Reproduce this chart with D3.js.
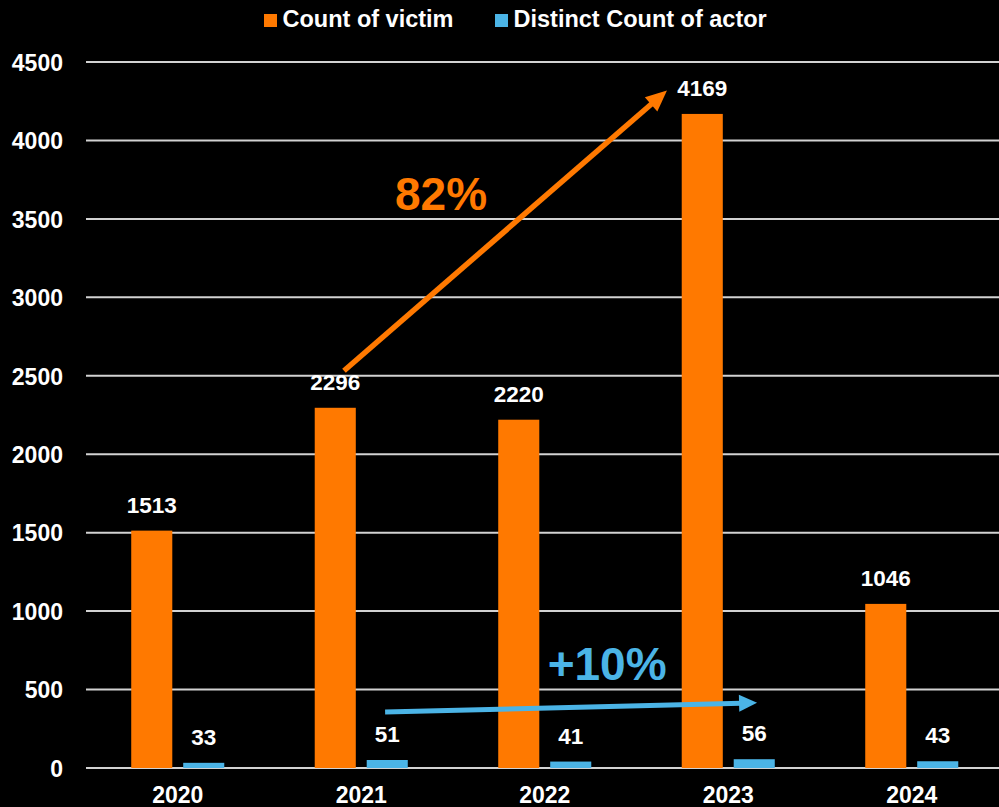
<!DOCTYPE html>
<html>
<head>
<meta charset="utf-8">
<script src="https://cdn.jsdelivr.net/npm/d3@7"></script>
<style>
  html, body { margin: 0; padding: 0; background: #000; }
  svg { display: block; }
  text { font-family: "Liberation Sans", Arial, "DejaVu Sans", sans-serif; font-weight: bold; }
</style>
</head>
<body>
<svg id="chart" width="999" height="807"></svg>
<script>
// Yearly totals
const years = ["2020", "2021", "2022", "2023", "2024"];
const victimCounts = [1513, 2296, 2220, 4169, 1046];
const actorCounts = [33, 51, 41, 56, 43];
const seriesNames = ["Count of victim", "Distinct Count of actor"];
const seriesColors = ["#FF7900", "#4BB4E6"];
const yTicks = [0, 500, 1000, 1500, 2000, 2500, 3000, 3500, 4000, 4500];

// Growth call-outs: arrow endpoints given as (year, position inside the year slot, value)
const growthArrows = [
  { color: "#FF7900", width: 5.5, head: 21, half: 9.5,
    from: { year: "2021", f: 0.406, v: 2532 }, to: { year: "2023", f: 0.166, v: 4318 } },
  { color: "#4BB4E6", width: 5, head: 18, half: 8.5,
    from: { year: "2021", f: 0.63, v: 357 }, to: { year: "2023", f: 0.657, v: 416 } }
];
const growthLabels = [
  { text: "82%", color: "#FF7900", year: "2021", f: 0.935, v: 3559 },
  { text: "+10%", color: "#4BB4E6", year: "2022", f: 0.84, v: 561 }
];

const rows = years.map((y, i) => ({ year: y, values: [victimCounts[i], actorCounts[i]] }));

const svg = d3.select("#chart");
const W = 999;

const x = d3.scaleBand().domain(years).range([86, 1003.5]).padding(0);
const xs = d3.scaleBand().domain(d3.range(seriesNames.length))
  .range([0, x.bandwidth()]).paddingInner(0.21).paddingOuter(0.87);
const y = d3.scaleLinear().domain([0, 4500]).range([768, 62]);

// Horizontal gridlines
svg.append("g").selectAll("line").data(yTicks).join("line")
  .attr("x1", 86).attr("x2", W)
  .attr("y1", d => y(d)).attr("y2", d => y(d))
  .attr("stroke", "#d2d2d2").attr("stroke-width", 2);

// Y axis labels
const yAxis = d3.axisLeft(y).tickValues(yTicks).tickFormat(d3.format("d")).tickSize(0).tickPadding(0);
const gy = svg.append("g").attr("transform", "translate(63,0)").call(yAxis);
gy.select(".domain").remove();
gy.selectAll("text")
  .attr("fill", "#fff").attr("font-size", "23px")
  .attr("font-family", "'Liberation Sans', Arial, sans-serif").attr("font-weight", "bold")
  .attr("dy", "0.36em");

// X axis labels
const xAxis = d3.axisBottom(x).tickSize(0).tickPadding(0);
const gx = svg.append("g").attr("transform", "translate(0,787)").call(xAxis);
gx.select(".domain").remove();
gx.selectAll("text")
  .attr("fill", "#fff").attr("font-size", "23px")
  .attr("font-family", "'Liberation Sans', Arial, sans-serif").attr("font-weight", "bold")
  .attr("dy", "0.7em");

// Bars
const groups = svg.append("g").selectAll("g").data(rows).join("g")
  .attr("transform", d => `translate(${x(d.year)},0)`);

groups.selectAll("rect").data(d => d.values.map((v, i) => ({ v, i }))).join("rect")
  .attr("x", d => xs(d.i))
  .attr("width", xs.bandwidth())
  .attr("y", d => y(d.v))
  .attr("height", d => y(0) - y(d.v))
  .attr("fill", d => seriesColors[d.i]);

// Value labels
groups.selectAll("text.val").data(d => d.values.map((v, i) => ({ v, i }))).join("text")
  .attr("class", "val")
  .attr("x", d => xs(d.i) + xs.bandwidth() / 2)
  .attr("y", d => y(d.v) - 18)
  .attr("text-anchor", "middle")
  .attr("fill", "#fff").attr("font-size", "22.5px")
  .text(d => d.v);

// Growth arrows
const pt = p => [x(p.year) + p.f * x.bandwidth(), y(p.v)];
const arrows = svg.append("g");
growthArrows.forEach(a => {
  const [x1, y1] = pt(a.from), [x2, y2] = pt(a.to);
  const len = Math.hypot(x2 - x1, y2 - y1);
  const ux = (x2 - x1) / len, uy = (y2 - y1) / len;
  const bx = x2 - ux * a.head, by = y2 - uy * a.head;
  arrows.append("line")
    .attr("x1", x1).attr("y1", y1).attr("x2", bx + ux * 2).attr("y2", by + uy * 2)
    .attr("stroke", a.color).attr("stroke-width", a.width);
  arrows.append("polygon")
    .attr("points", [
      [x2, y2],
      [bx - uy * a.half, by + ux * a.half],
      [bx + uy * a.half, by - ux * a.half]
    ].map(p => p.join(",")).join(" "))
    .attr("fill", a.color);
});

// Growth percentages
svg.append("g").selectAll("text").data(growthLabels).join("text")
  .attr("x", d => x(d.year) + d.f * x.bandwidth())
  .attr("y", d => y(d.v))
  .attr("text-anchor", "middle")
  .attr("fill", d => d.color)
  .attr("font-size", "46px")
  .text(d => d.text);

// Legend
const legendX = [264, 495];
const legend = svg.append("g").selectAll("g").data(seriesNames).join("g")
  .attr("transform", (d, i) => `translate(${legendX[i]},0)`);
legend.append("rect")
  .attr("x", 0).attr("y", 14).attr("width", 13).attr("height", 13)
  .attr("fill", (d, i) => seriesColors[i]);
legend.append("text")
  .attr("x", 18.5).attr("y", 27)
  .attr("fill", "#fff").attr("font-size", "23.5px")
  .text(d => d);
</script>
</body>
</html>
